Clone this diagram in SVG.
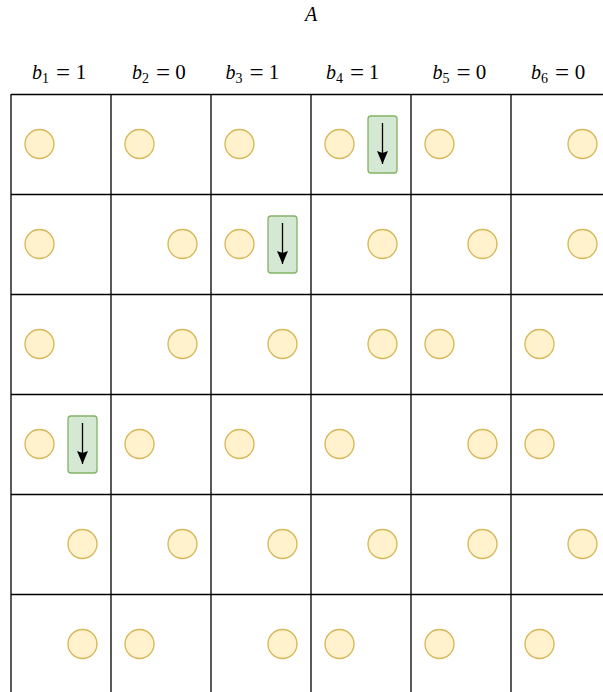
<svg xmlns="http://www.w3.org/2000/svg" width="603" height="692" viewBox="0 0 603 692">
<style>
.grid{stroke:#000;stroke-width:1.3;fill:none}
.c{fill:#fff2cc;stroke:#d6b656;stroke-width:1.3}
.g{fill:#d5e8d4;stroke:#82b366;stroke-width:1.3}
.ar{stroke:#000;stroke-width:1.3;fill:none}
.t{font-family:"Liberation Serif","Times New Roman",serif;font-size:20px;fill:#000}
.i{font-style:italic}
.s{font-size:14px}
.m{text-anchor:middle}
.e{font-size:25px}
.d{font-size:21px}
</style>
<defs>
<marker id="ah" viewBox="0 0 11 13" refX="5.5" refY="13" markerWidth="11" markerHeight="13" markerUnits="userSpaceOnUse" orient="0">
<path d="M0,0 L5.5,13 L11,0 L5.5,2 Z" fill="#000"/>
</marker>
</defs>
<g id="title"><text class="t i m" x="311" y="21">A</text></g>
<g id="headers">
<g id="h1"><text class="t i" x="32" y="79">b</text><text class="t s" x="42" y="83">1</text><text class="t m e" x="63" y="81">=</text><text class="t m d" x="81" y="79">1</text></g>
<g id="h2"><text class="t i" x="132" y="79">b</text><text class="t s" x="142" y="83">2</text><text class="t m e" x="163" y="81">=</text><text class="t m d" x="180.5" y="79">0</text></g>
<g id="h3"><text class="t i" x="225.5" y="79">b</text><text class="t s" x="235.5" y="83">3</text><text class="t m e" x="256.5" y="81">=</text><text class="t m d" x="274" y="79">1</text></g>
<g id="h4"><text class="t i" x="326" y="79">b</text><text class="t s" x="336" y="83">4</text><text class="t m e" x="357" y="81">=</text><text class="t m d" x="374" y="79">1</text></g>
<g id="h5"><text class="t i" x="432.5" y="79">b</text><text class="t s" x="442.5" y="83">5</text><text class="t m e" x="463.5" y="81">=</text><text class="t m d" x="481" y="79">0</text></g>
<g id="h6"><text class="t i" x="531" y="79">b</text><text class="t s" x="541" y="83">6</text><text class="t m e" x="562" y="81">=</text><text class="t m d" x="580" y="79">0</text></g>
</g>
<g id="grid" class="grid">
<path d="M11,94.5H611M11,194.5H611M11,294.5H611M11,394.5H611M11,494.5H611M11,594.5H611"/>
<path d="M11,94V700M111,94V700M211,94V700M311,94V700M411,94V700M511,94V700"/>
</g>
<g id="circles">
<circle class="c" cx="39.5" cy="144" r="14.5"/><circle class="c" cx="139.5" cy="144" r="14.5"/><circle class="c" cx="239.5" cy="144" r="14.5"/><circle class="c" cx="339.5" cy="144" r="14.5"/><circle class="c" cx="439.5" cy="144" r="14.5"/><circle class="c" cx="582.5" cy="144" r="14.5"/>
<circle class="c" cx="39.5" cy="244" r="14.5"/><circle class="c" cx="182.5" cy="244" r="14.5"/><circle class="c" cx="239.5" cy="244" r="14.5"/><circle class="c" cx="382.5" cy="244" r="14.5"/><circle class="c" cx="482.5" cy="244" r="14.5"/><circle class="c" cx="582.5" cy="244" r="14.5"/>
<circle class="c" cx="39.5" cy="344" r="14.5"/><circle class="c" cx="182.5" cy="344" r="14.5"/><circle class="c" cx="282.5" cy="344" r="14.5"/><circle class="c" cx="382.5" cy="344" r="14.5"/><circle class="c" cx="439.5" cy="344" r="14.5"/><circle class="c" cx="539.5" cy="344" r="14.5"/>
<circle class="c" cx="39.5" cy="444" r="14.5"/><circle class="c" cx="139.5" cy="444" r="14.5"/><circle class="c" cx="239.5" cy="444" r="14.5"/><circle class="c" cx="339.5" cy="444" r="14.5"/><circle class="c" cx="482.5" cy="444" r="14.5"/><circle class="c" cx="539.5" cy="444" r="14.5"/>
<circle class="c" cx="82.5" cy="544" r="14.5"/><circle class="c" cx="182.5" cy="544" r="14.5"/><circle class="c" cx="282.5" cy="544" r="14.5"/><circle class="c" cx="382.5" cy="544" r="14.5"/><circle class="c" cx="482.5" cy="544" r="14.5"/><circle class="c" cx="582.5" cy="544" r="14.5"/>
<circle class="c" cx="82.5" cy="644" r="14.5"/><circle class="c" cx="139.5" cy="644" r="14.5"/><circle class="c" cx="282.5" cy="644" r="14.5"/><circle class="c" cx="339.5" cy="644" r="14.5"/><circle class="c" cx="439.5" cy="644" r="14.5"/><circle class="c" cx="539.5" cy="644" r="14.5"/>
</g>
<g id="slider1"><rect class="g" x="368" y="116" width="29" height="57" rx="3"/><path class="ar" d="M382.5,123V164" marker-end="url(#ah)"/></g>
<g id="slider2"><rect class="g" x="268" y="216" width="29" height="57" rx="3"/><path class="ar" d="M282.5,223V264" marker-end="url(#ah)"/></g>
<g id="slider3"><rect class="g" x="68" y="416" width="29" height="57" rx="3"/><path class="ar" d="M82.5,423V464" marker-end="url(#ah)"/></g>
</svg>
